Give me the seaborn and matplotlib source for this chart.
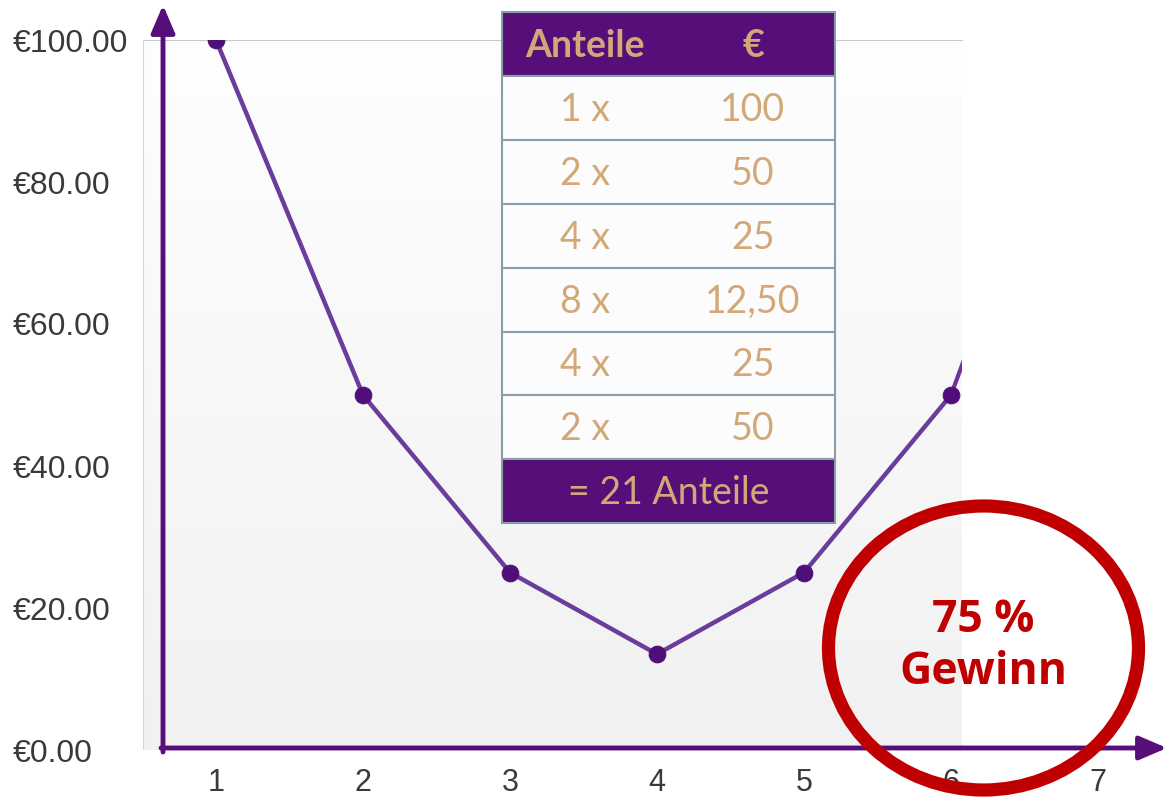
import numpy as np
import matplotlib.pyplot as plt
import seaborn as sns
from matplotlib.patches import Rectangle, Ellipse

# data
steps = [1, 2, 3, 4, 5, 6]
prices = [100, 50, 25, 13.5, 25, 50]
x_ticks = [1, 2, 3, 4, 5, 6, 7]
y_ticks = [0, 20, 40, 60, 80, 100]
y_labels = [f"€{v:.2f}" for v in y_ticks]

table_header = ["Anteile", "€"]
table_anteile = ["1 x", "2 x", "4 x", "8 x", "4 x", "2 x"]
table_euro = ["100", "50", "25", "12,50", "25", "50"]
table_total = "= 21 Anteile"
badge_text = ["75 %", "Gewinn"]

# colours
PURPLE = "#560f78"
LINE = "#6a3c9c"
GOLD = "#d2a878"
RED = "#c00000"
W, H = 1169, 797

sns.set_theme(style="white")
plt.rcParams["font.family"] = ["Liberation Sans", "DejaVu Sans"]

fig = plt.figure(figsize=(W / 100, H / 100), dpi=100)
fig.patch.set_facecolor("white")

# axes: x=1 at px 216, 147 px per step; y 0..100 from px 750 to 40
left_px, right_px, top_px, bot_px = 143, W, 40, 750
ax = fig.add_axes([left_px / W, (H - bot_px) / H, (right_px - left_px) / W, (bot_px - top_px) / H])
x0 = 1 + (left_px - 216) / 147
x1 = 1 + (right_px - 216) / 147
ax.set_xlim(x0, x1)
ax.set_ylim(0, 100)
for s in ax.spines.values():
    s.set_visible(False)

# grey gradient plot background (ends at px 962)
x_bg = 1 + (962 - 216) / 147
grad = np.linspace(0, 1, 256).reshape(-1, 1)
bg = ax.imshow(grad, extent=(x0, x_bg, 0, 100), origin="upper", aspect="auto",
               cmap=sns.blend_palette(["#fefefe", "#f1f1f1"], as_cmap=True), zorder=0)
ax.plot([x0, x_bg], [100, 100], color="#c8c8c8", lw=1.5, zorder=1)
ax.plot([x0, x0], [0, 100], color="#d4d4d4", lw=1.5, zorder=1)

sns.lineplot(x=steps, y=prices, ax=ax, color=LINE, linewidth=3.2, marker="o",
             markersize=12, markerfacecolor="#4e1078", markeredgecolor="#4e1078",
             zorder=3)

# line continues past the last point, cut off by the white area
clip = Rectangle((x0, 0), x_bg - x0, 100, transform=ax.transData)
tail = ax.annotate("", xy=(steps[-1] + 0.25, prices[-1] + 14), xytext=(steps[-1], prices[-1]),
                   arrowprops=dict(arrowstyle="-|>,head_length=1.2,head_width=0.5",
                                   color="#7030a0", lw=3, shrinkA=0, shrinkB=0), zorder=2)
tail.arrow_patch.set_clip_path(clip)

ax.set_xticks(x_ticks)
ax.set_xticklabels([str(t) for t in x_ticks])
ax.set_yticks(y_ticks)
ax.set_yticklabels(y_labels)
for lab in ax.get_yticklabels():
    lab.set_horizontalalignment("left")
ax.tick_params(axis="y", length=0, pad=94, labelsize=23, labelcolor="#3a3a3a")
ax.tick_params(axis="x", length=0, pad=13, labelsize=22, labelcolor="#3a3a3a")
ax.set_xlabel("")
ax.set_ylabel("")

# purple axis arrows
arrow = dict(arrowstyle="-|>,head_length=1.4,head_width=0.6", color=PURPLE, lw=3.5,
             shrinkA=0, shrinkB=0)
ax.annotate("", xy=(163, H - 5), xytext=(163, H - 752), xycoords="figure pixels",
            textcoords="figure pixels", arrowprops=arrow, zorder=4, annotation_clip=False)
ax.annotate("", xy=(1167, H - 748), xytext=(161, H - 748), xycoords="figure pixels",
            textcoords="figure pixels", arrowprops=arrow, zorder=4, annotation_clip=False)

# table overlay
tx0, tx1, ty0, row_h = 502, 835, 12, 63.9
col1, col2 = 585, 753
n_rows = len(table_anteile) + 2


def fy(py):
    return (H - py) / H


for i in range(n_rows):
    top = ty0 + i * row_h
    fill = PURPLE if i in (0, n_rows - 1) else "#fcfcfc"
    fig.add_artist(Rectangle((tx0 / W, fy(top + row_h)), (tx1 - tx0) / W, row_h / H,
                             facecolor=fill, edgecolor="#8a9ea9", lw=1.5,
                             transform=fig.transFigure, zorder=10))

tfont = ["Lato", "DejaVu Sans"]
for txt, cx in zip(table_header, [col1, col2]):
    fig.text(cx / W, fy(ty0 + row_h / 2 + 2), txt, ha="center", va="center",
             color=GOLD, fontsize=27, fontweight="bold", family=tfont, zorder=11)
for i, (a, e) in enumerate(zip(table_anteile, table_euro)):
    cy = ty0 + (i + 1.5) * row_h + 2
    fig.text(col1 / W, fy(cy), a, ha="center", va="center", color=GOLD,
             fontsize=27, family=tfont, zorder=11)
    fig.text(col2 / W, fy(cy), e, ha="center", va="center", color=GOLD,
             fontsize=27, family=tfont, zorder=11)
fig.text((tx0 + tx1) / 2 / W, fy(ty0 + (n_rows - 0.5) * row_h + 2), table_total,
         ha="center", va="center", color=GOLD, fontsize=27, family=tfont, zorder=11)

# red badge
fig.add_artist(Ellipse((983.5 / W, fy(648)), 310 / W, 284 / H, facecolor="none",
                       edgecolor=RED, lw=9.5, transform=fig.transFigure, zorder=12))
fig.text(983 / W, fy(620), badge_text[0], ha="center", va="center", color=RED,
         fontsize=32, fontweight="bold", family=["Open Sans", "DejaVu Sans"], zorder=13)
fig.text(983 / W, fy(672), badge_text[1], ha="center", va="center", color=RED,
         fontsize=32, fontweight="bold", family=["Open Sans", "DejaVu Sans"], zorder=13)

fig.savefig("out.png", dpi=100)
